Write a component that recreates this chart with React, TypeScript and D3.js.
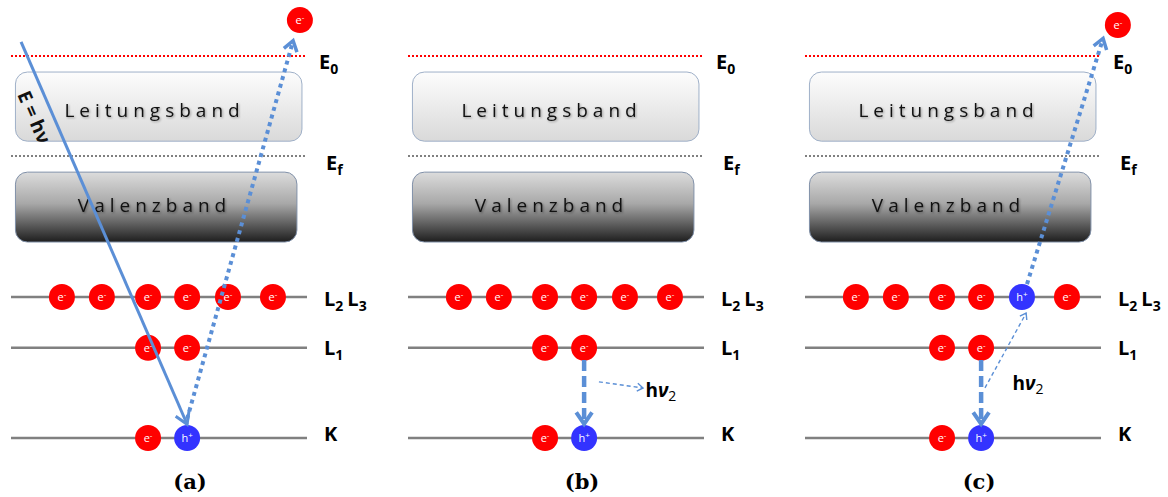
import React from "react";
import * as d3 from "d3";

// panels
const panelLabels = ["(a)", "(b)", "(c)"];

// energies (arbitrary units, K shell = 0)
const vacuumEnergy = 100;
const fermiEnergy = 73.8;
const conductionBand = [77.7, 95.8];
const valenceBand = [51.3, 69.6];
const shellNames = ["L23", "L1", "K"];
const shellEnergy = [36.9, 23.6, 0];

// electron slots along each shell (0..100 across a panel)
const l23Slots = [17.2, 30.7, 46.3, 59.5, 73.3, 88.5];
const l1Slots = [46.3, 59.5];
const kSlots = [46.3, 59.5];

// occupancy per panel: e = electron, h = hole
const l23Occ = [
  ["e", "e", "e", "e", "e", "e"],
  ["e", "e", "e", "e", "e", "e"],
  ["e", "e", "e", "e", "h", "e"],
];
const l1Occ = [["e", "e"], ["e", "e"], ["e", "e"]];
const kOcc = [["e", "h"], ["e", "h"], ["e", "h"]];

// emitted electrons [panel, slot, energy]
const freeElectrons = [
  [0, 97.6, 109.4],
  [2, 105.7, 108.1],
];

// arrows [panel, x1, e1, x2, e2, kind]
const arrows = [
  [0, 3.4, 103.7, 59.5, 3.6, "photon"],
  [0, 59.5, 5.0, 95.3, 104.0, "dotted"],
  [2, 75.0, 40.3, 100.7, 104.6, "dotted"],
  [1, 59.5, 20.4, 59.5, 3.7, "dashed"],
  [2, 59.5, 20.4, 59.5, 3.7, "dashed"],
  [1, 64.5, 14.7, 79.4, 13.1, "thin"],
  [2, 60.8, 13.1, 74.7, 32.7, "thin"],
];

// h nu_2 labels [panel, slot, energy]
const hnuLabels = [
  [1, 80.2, 10.7],
  [2, 70.1, 12.6],
];

const W = 1168;
const H = 497;
const blue = "#5b8fd6";

const panelX = d3.scaleBand().domain(panelLabels).range([0, 397 * 3]);
const x = d3.scaleLinear().domain([0, 100]).range([11, 307]);
const y = d3.scaleLinear().domain([0, 100]).range([438, 56]);

function head(x1: number, y1: number, x2: number, y2: number, len: number, spread: number) {
  const a = Math.atan2(y2 - y1, x2 - x1);
  const p1 = [x2 - len * Math.cos(a - spread), y2 - len * Math.sin(a - spread)];
  const p2 = [x2 - len * Math.cos(a + spread), y2 - len * Math.sin(a + spread)];
  return `M${p1[0]},${p1[1]}L${x2},${y2}L${p2[0]},${p2[1]}`;
}

function Particle({ cx, cy, kind }: { cx: number; cy: number; kind: string }) {
  const e = kind === "e";
  return (
    <g>
      <circle cx={cx} cy={cy} r={13} fill={e ? "#ff0000" : "#3333ff"} />
      <text
        x={cx}
        y={cy + 4}
        textAnchor="middle"
        fill="#fff"
        fontFamily="'Open Sans', sans-serif"
        fontSize={11}
      >
        {e ? "e" : "h"}
        <tspan fontSize={8} dy={-4}>{e ? "-" : "+"}</tspan>
      </text>
    </g>
  );
}

function Panel({ label, i }: { label: string; i: number }) {
  const ox = panelX(label) || 0;
  const X = (v: number) => ox + x(v);
  const labelFont = "'Open Sans', 'DejaVu Sans', sans-serif";
  return (
    <g>
      {/* vacuum and fermi level */}
      <line x1={X(0)} x2={X(100)} y1={y(vacuumEnergy)} y2={y(vacuumEnergy)} stroke="#ff0000" strokeWidth={2} strokeDasharray="2 2" />
      <line x1={X(0)} x2={X(100)} y1={y(fermiEnergy)} y2={y(fermiEnergy)} stroke="#808080" strokeWidth={2} strokeDasharray="2 2" />
      {/* bands */}
      <rect x={X(1.5)} width={x(98.3) - x(1.5)} y={y(conductionBand[1])} height={y(conductionBand[0]) - y(conductionBand[1])} rx={12} fill="url(#cb)" stroke="#9fb0c8" strokeWidth={1} />
      <rect x={X(1.5)} width={x(96.6) - x(1.5)} y={y(valenceBand[1])} height={y(valenceBand[0]) - y(valenceBand[1])} rx={12} fill="url(#vb)" stroke="#8090a8" strokeWidth={1} />
      <text x={X(48.5)} y={y(conductionBand[0]) - 24} textAnchor="middle" fontFamily="'Open Sans', sans-serif" fontSize={19} letterSpacing={5} fill="#111" style={{ filter: "drop-shadow(1px 1px 1px rgba(0,0,0,0.35))" }}>Leitungsband</text>
      <text x={X(48.5)} y={y(valenceBand[0]) - 30} textAnchor="middle" fontFamily="'Open Sans', sans-serif" fontSize={19} letterSpacing={5} fill="#111" style={{ filter: "drop-shadow(1px 1px 1px rgba(0,0,0,0.35))" }}>Valenzband</text>
      {/* shells */}
      {shellEnergy.map((en, k) => (
        <line key={k} x1={X(0)} x2={X(100)} y1={y(en)} y2={y(en)} stroke="#808080" strokeWidth={2.5} />
      ))}
      {/* side labels */}
      <text x={X(100) + 12} y={y(vacuumEnergy) + 13} fontFamily={labelFont} fontWeight="bold" fontSize={20}>
        E<tspan fontSize={14} dy={5}>0</tspan>
      </text>
      <text x={X(100) + 19} y={y(fermiEnergy) + 14} fontFamily={labelFont} fontWeight="bold" fontSize={20}>
        E<tspan fontSize={14} dy={5}>f</tspan>
      </text>
      <text x={X(100) + 17} y={y(shellEnergy[0]) + 9} fontFamily={labelFont} fontWeight="bold" fontSize={20}>
        L<tspan fontSize={14} dy={5}>2</tspan>
        <tspan dy={-5} dx={4}>L</tspan>
        <tspan fontSize={14} dy={5}>3</tspan>
      </text>
      <text x={X(100) + 17} y={y(shellEnergy[1]) + 7} fontFamily={labelFont} fontWeight="bold" fontSize={20}>
        L<tspan fontSize={14} dy={5}>1</tspan>
      </text>
      <text x={X(100) + 17} y={y(shellEnergy[2]) + 3} fontFamily={labelFont} fontWeight="bold" fontSize={20}>K</text>
      {/* caption */}
      <text x={ox + 190 - (i === 0 ? 0 : 5)} y={489} textAnchor="middle" fontFamily="'DejaVu Serif', 'Liberation Serif', serif" fontWeight="bold" fontSize={21}>{label}</text>
    </g>
  );
}

function PanelParticles({ label, i }: { label: string; i: number }) {
  const ox = panelX(label) || 0;
  const X = (v: number) => ox + x(v);
  return (
    <g>
      {l23Slots.map((s, k) => <Particle key={"a" + k} cx={X(s)} cy={y(shellEnergy[0])} kind={l23Occ[i][k]} />)}
      {l1Slots.map((s, k) => <Particle key={"b" + k} cx={X(s)} cy={y(shellEnergy[1])} kind={l1Occ[i][k]} />)}
      {kSlots.map((s, k) => <Particle key={"c" + k} cx={X(s)} cy={y(shellEnergy[2])} kind={kOcc[i][k]} />)}
    </g>
  );
}

function Arrow({ a }: { a: any[] }) {
  const [p, x1v, e1, x2v, e2, kind] = a;
  const ox = panelX(panelLabels[p]) || 0;
  const x1 = ox + x(x1v), y1 = y(e1), x2 = ox + x(x2v), y2 = y(e2);
  if (kind === "photon") {
    return (
      <g fill="none" stroke={blue} strokeWidth={3}>
        <line x1={x1} y1={y1} x2={x2} y2={y2} />
        <path d={head(x1, y1, x2, y2, 14, 0.55)} strokeLinejoin="miter" />
      </g>
    );
  }
  if (kind === "dotted") {
    return (
      <g fill="none" stroke={blue} strokeWidth={4}>
        <line x1={x1} y1={y1} x2={x2} y2={y2} strokeDasharray="4 4" />
        <path d={head(x1, y1, x2, y2, 12, 0.6)} strokeWidth={3.5} />
      </g>
    );
  }
  if (kind === "dashed") {
    return (
      <g fill="none" stroke={blue} strokeWidth={4.5}>
        <line x1={x1} y1={y1} x2={x2} y2={y2 - 4} strokeDasharray="11 5" />
        <path d={head(x1, y1, x2, y2, 14, 0.6)} strokeWidth={4} />
      </g>
    );
  }
  return (
    <g fill="none" stroke={blue} strokeWidth={1.4}>
      <line x1={x1} y1={y1} x2={x2} y2={y2} strokeDasharray="4 3" />
      <path d={head(x1, y1, x2, y2, 7, 0.6)} />
    </g>
  );
}

export default function App() {
  const photon = arrows[0];
  const px1 = x(photon[1] as number), py1 = y(photon[2] as number);
  const px2 = x(photon[3] as number), py2 = y(photon[4] as number);
  const ang = (Math.atan2(py2 - py1, px2 - px1) * 180) / Math.PI;
  return (
    <svg width={W} height={H} style={{ position: "absolute", left: 0, top: 0, background: "#fff" }}>
      <defs>
        <linearGradient id="cb" x1="0" x2="0" y1="0" y2="1">
          <stop offset="0" stopColor="#fdfdfd" />
          <stop offset="1" stopColor="#d9d9d9" />
        </linearGradient>
        <linearGradient id="vb" x1="0" x2="0" y1="0" y2="1">
          <stop offset="0" stopColor="#dcdcdc" />
          <stop offset="0.45" stopColor="#a8a8a8" />
          <stop offset="1" stopColor="#1e1e1e" />
        </linearGradient>
      </defs>
      {panelLabels.map((l, i) => <Panel key={l} label={l} i={i} />)}
      {panelLabels.map((l, i) => <PanelParticles key={l} label={l} i={i} />)}
      {freeElectrons.map((f, k) => (
        <Particle key={k} cx={(panelX(panelLabels[f[0]]) || 0) + x(f[1])} cy={y(f[2])} kind="e" />
      ))}
      {arrows.map((a, k) => <Arrow key={k} a={a} />)}
      {/* E = h nu along the photon */}
      <text
        transform={`translate(${px1 + 7},${py1 + 78}) rotate(${ang})`}
        textAnchor="middle"
        fontFamily="'Open Sans', sans-serif"
        fontWeight="bold"
        fontSize={19}
        fill="#111"
      >
        E = hν
      </text>
      {hnuLabels.map((h, k) => (
        <text
          key={k}
          x={(panelX(panelLabels[h[0]]) || 0) + x(h[1])}
          y={y(h[2])}
          fontFamily="'Open Sans', sans-serif"
          fontWeight="bold"
          fontSize={19}
        >
          h<tspan fontStyle="italic">ν</tspan>
          <tspan fontSize={14} dy={4} fontWeight="normal">2</tspan>
        </text>
      ))}
    </svg>
  );
}
